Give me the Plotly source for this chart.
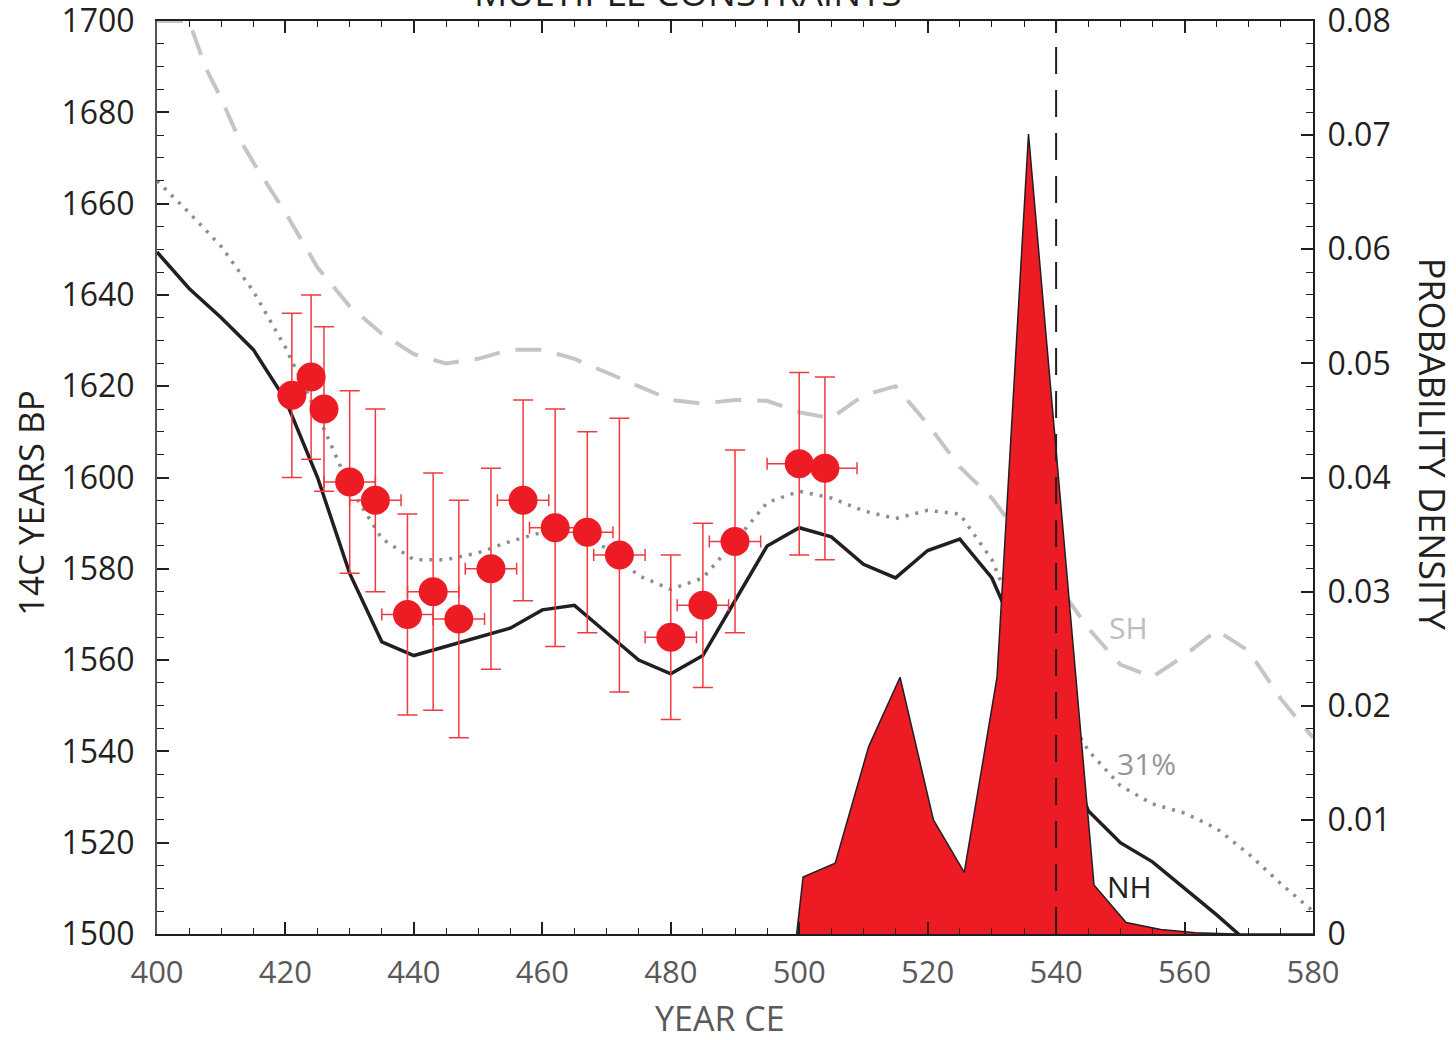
import plotly.graph_objects as go

# ---- Southern Hemisphere curve (dashed grey) ----
sh_year = [400, 405, 407.5, 410, 412.5, 415, 420, 425, 430, 435, 440, 445, 450, 455,
           460, 465, 470, 475, 480, 485, 490, 495, 500, 505, 510, 515, 520, 525,
           530, 535, 540, 545, 550, 555, 560, 565, 570, 575, 580]
sh_c14 = [1700, 1700, 1690, 1683, 1675, 1669, 1658, 1646, 1637.5, 1631.5, 1627, 1625,
          1626, 1628, 1628, 1626, 1623, 1620, 1617, 1616.2, 1617, 1616.8, 1614.3, 1613,
          1618, 1620, 1611.7, 1602.3, 1595.5, 1586, 1577, 1567, 1559, 1556.3, 1561,
          1566.5, 1562, 1551.5, 1543]

# ---- 31% mixed curve (dotted grey) ----
mix_year = [400, 405, 410, 415, 420, 425, 430, 435, 440, 445, 450, 455, 460, 465, 470,
            475, 480, 485, 490, 495, 500, 505, 510, 515, 520, 525, 530, 535, 540, 545,
            550, 555, 560, 565, 570, 575, 580]
mix_c14 = [1665, 1658, 1650.6, 1640.8, 1628.5, 1613.8, 1597.9, 1586.6, 1582, 1582,
           1583.5, 1586, 1588, 1588, 1584.5, 1578.5, 1575.5, 1578, 1586, 1594.5, 1597,
           1595.5, 1592.7, 1591, 1592.8, 1592, 1582, 1565, 1552, 1540.2, 1532.5, 1528.5,
           1526.5, 1523.1, 1517.5, 1511, 1505]

# ---- Northern Hemisphere curve (solid black) ----
nh_year = [400, 405, 410, 415, 420, 425, 430, 435, 440, 445, 450, 455, 460, 465, 470,
           475, 480, 485, 490, 495, 500, 505, 510, 515, 520, 525, 530, 535, 540, 545,
           550, 555, 560, 565, 570]
nh_c14 = [1649.4, 1641.4, 1635, 1628, 1617, 1600, 1579, 1564, 1561, 1563, 1565, 1567,
          1571, 1572, 1566, 1560, 1557, 1561, 1573, 1585, 1589, 1587, 1581, 1578, 1584,
          1586.5, 1578, 1562, 1545, 1527, 1520, 1515.8, 1510, 1504.2, 1498]

# ---- Tree-ring 14C measurements ----
obs_year = [421, 424, 426, 430, 434, 439, 443, 447, 452, 457, 462, 467, 472, 480, 485,
            490, 500, 504]
obs_c14 = [1618, 1622, 1615, 1599, 1595, 1570, 1575, 1569, 1580, 1595, 1589, 1588, 1583,
           1565, 1572, 1586, 1603, 1602]
obs_c14_err = [18, 18, 18, 20, 20, 22, 26, 26, 22, 22, 26, 22, 30, 18, 18, 20, 20, 20]
obs_year_err = [1.5, 1.5, 1.5, 4, 4, 4, 4, 4, 4, 4, 4, 4, 4, 4, 4, 4, 5, 5]

# ---- Probability density of the calibrated date ----
pdf_year = [499.6, 500.6, 505.6, 510.8, 515.7, 520.9, 525.7, 530.8, 535.7, 545.9,
            550.9, 556.3, 561.7, 568, 580]
pdf_density = [0, 0.0050, 0.0062, 0.0164, 0.0225, 0.0100, 0.0054, 0.0225, 0.0701,
               0.0043, 0.0010, 0.0004, 0.0001, 0, 0]

EVENT_YEAR = 540

RED = "#ed1c24"
INK = "#231f20"
GREY_TXT = "#58595b"
FONT = "Open Sans"

fig = go.Figure()

fig.add_trace(go.Scatter(
    x=sh_year, y=sh_c14, mode="lines",
    line=dict(color="#c4c5c7", width=4, dash="26px,16px"),
    hoverinfo="skip", showlegend=False))

fig.add_trace(go.Scatter(
    x=mix_year, y=mix_c14, mode="lines",
    line=dict(color="#8c8d90", width=3.5, dash="3px,7px"),
    hoverinfo="skip", showlegend=False))

fig.add_trace(go.Scatter(
    x=nh_year, y=nh_c14, mode="lines",
    line=dict(color=INK, width=3.5),
    hoverinfo="skip", showlegend=False))

fig.add_trace(go.Scatter(
    x=obs_year, y=obs_c14, mode="markers",
    marker=dict(color=RED, size=29, line=dict(width=0)),
    error_y=dict(type="data", array=obs_c14_err, visible=True,
                 color="#ef3b40", thickness=1.5, width=10),
    error_x=dict(type="data", array=obs_year_err, visible=True,
                 color="#ef3b40", thickness=1.5, width=6),
    showlegend=False))

fig.add_trace(go.Scatter(
    x=pdf_year, y=pdf_density, yaxis="y2", mode="lines",
    fill="tozeroy", fillcolor=RED,
    line=dict(color=INK, width=1.5),
    hoverinfo="skip", showlegend=False))

fig.add_trace(go.Scatter(
    x=[EVENT_YEAR, EVENT_YEAR], y=[0, 0.08], yaxis="y2", mode="lines",
    line=dict(color=INK, width=2, dash="27px,16px"),
    hoverinfo="skip", showlegend=False))

tick_font = dict(family=FONT, size=32, color=INK)

fig.update_layout(
    width=1456, height=1040,
    margin=dict(l=157, r=143, t=21, b=106, autoexpand=False),
    paper_bgcolor="white", plot_bgcolor="white",
    xaxis=dict(
        range=[400, 580], tick0=400, dtick=20,
        ticks="inside", ticklen=12, tickwidth=1.5, tickcolor=INK,
        minor=dict(dtick=5, ticks="inside", ticklen=6, tickwidth=1.2, tickcolor=INK),
        showline=True, linecolor=INK, linewidth=2, mirror="ticks",
        showgrid=False, zeroline=False, automargin=False,
        tickfont=dict(family=FONT, size=31, color=GREY_TXT),
        ticklabelstandoff=10, ticklabeloverflow="allow",
    ),
    yaxis=dict(
        range=[1500, 1700], tick0=1500, dtick=20,
        ticks="inside", ticklen=12, tickwidth=1.5, tickcolor=INK,
        minor=dict(dtick=5, ticks="inside", ticklen=7, tickwidth=1.2, tickcolor=INK),
        showline=True, linecolor="#555555", linewidth=2,
        showgrid=False, zeroline=False, automargin=False,
        tickfont=tick_font, ticklabelstandoff=14, ticklabeloverflow="allow",
    ),
    yaxis2=dict(
        range=[0, 0.08], tick0=0, dtick=0.01, overlaying="y", side="right",
        ticks="inside", ticklen=12, tickwidth=1.5, tickcolor=INK,
        minor=dict(dtick=0.002, ticks="inside", ticklen=7, tickwidth=1.2, tickcolor=INK),
        showline=True, linecolor=INK, linewidth=2,
        showgrid=False, zeroline=False, automargin=False,
        tickfont=tick_font, ticklabelstandoff=6, ticklabeloverflow="allow",
    ),
)

annotations = [
    dict(text="MULTIPLE CONSTRAINTS", xref="paper", yref="paper",
         x=0.4593, y=1.0019, xanchor="center", yanchor="bottom",
         font=dict(family=FONT, size=37, color=INK), showarrow=False),
    dict(text="14C YEARS BP", xref="paper", yref="paper",
         x=-0.1099, y=0.4719, xanchor="center", yanchor="middle", textangle=-90,
         font=dict(family=FONT, size=35, color=INK), showarrow=False),
    dict(text="YEAR CE", xref="paper", yref="paper",
         x=0.487, y=-0.0915, xanchor="center", yanchor="middle",
         font=dict(family=FONT, size=34, color=GREY_TXT), showarrow=False),
    dict(text="PROBABILITY DENSITY", xref="paper", yref="paper",
         x=1.103, y=0.537, xanchor="center", yanchor="middle", textangle=90,
         font=dict(family=FONT, size=36, color=INK), showarrow=False),
    dict(text="SH", x=551.2, y=1567.2, xref="x", yref="y",
         font=dict(family=FONT, size=30, color="#bcbec0"), showarrow=False),
    dict(text="31%", x=554, y=1537.4, xref="x", yref="y",
         font=dict(family=FONT, size=30, color="#939598"), showarrow=False),
    dict(text="NH", x=551.5, y=1510.5, xref="x", yref="y",
         font=dict(family=FONT, size=30, color=INK), showarrow=False),
]
fig.update_layout(annotations=annotations)

fig.write_html("out.html")
